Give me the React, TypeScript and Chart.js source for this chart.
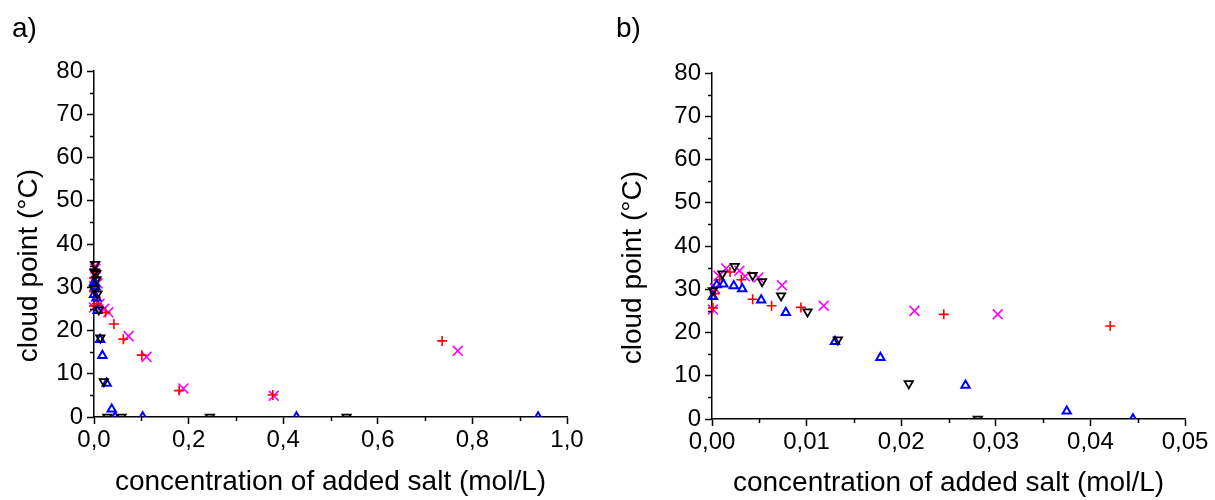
import React, { useEffect, useRef } from 'react';
import { Chart, registerables } from 'chart.js';

Chart.register(...registerables);

// ---- data (shared by both panels; panel b is the low-concentration zoom) ----
const downTriX = [0.0001, 0.0011, 0.0024, 0.0043, 0.0053, 0.0073, 0.0101, 0.0133, 0.0208, 0.0281, 0.058, 0.245, 0.534];
const downTriY = [29.7, 33.6, 35.3, 33.2, 31.8, 28.5, 24.8, 18.3, 8.2, 0, 0, 0, 0];

const upTriX = [0.0001, 0.0005, 0.0012, 0.0023, 0.0032, 0.0052, 0.0078, 0.013, 0.0178, 0.0268, 0.0375, 0.0445, 0.103, 0.428, 0.939];
const upTriY = [28.3, 31.0, 31.2, 30.8, 30.1, 27.5, 24.6, 17.9, 14.2, 7.8, 1.8, 0, 0, 0, 0];

const plusX = [0.0001, 0.0003, 0.0008, 0.0019, 0.0031, 0.0043, 0.0063, 0.0094, 0.0245, 0.0421, 0.062, 0.101, 0.18, 0.378, 0.736];
const plusY = [25.7, 29.0, 32.2, 34.0, 32.2, 27.7, 26.2, 25.8, 24.2, 21.5, 18.0, 14.3, 6.1, 5.1, 17.6];

const crossX = [0.0001, 0.0003, 0.0007, 0.0015, 0.0029, 0.0035, 0.0049, 0.0074, 0.0118, 0.0214, 0.0302, 0.073, 0.111, 0.189, 0.38, 0.769];
const crossY = [25.3, 30.2, 33.1, 34.8, 34.3, 33.0, 32.7, 30.9, 26.2, 25.0, 24.2, 18.7, 13.9, 6.6, 4.9, 15.3];

const yTicksMajor = [0, 10, 20, 30, 40, 50, 60, 70, 80];
const yMinor = [5, 15, 25, 35, 45, 55, 65, 75];
const xMinorA = [0.1, 0.3, 0.5, 0.7, 0.9];
const xMinorB = [0.005, 0.015, 0.025, 0.035, 0.045];

const X_TITLE = 'concentration of added salt (mol/L)';
const Y_TITLE = 'cloud point (°C)';
const FONT = '"Liberation Sans", Arial, Helvetica, sans-serif';

const zip = (xs: number[], ys: number[]) => xs.map((x, i) => ({ x, y: ys[i] }));

function makeDatasets() {
  const clip = { left: 10, top: 10, right: 10, bottom: 0 } as any;
  return [
    {
      label: 'down',
      data: zip(downTriX, downTriY),
      pointStyle: 'triangle',
      pointRotation: 180,
      pointRadius: 4.8,
      pointBorderColor: '#000000',
      pointBorderWidth: 1.8,
      pointBackgroundColor: 'rgba(0,0,0,0)',
      showLine: false,
      clip,
    },
    {
      label: 'up',
      data: zip(upTriX, upTriY),
      pointStyle: 'triangle',
      pointRotation: 0,
      pointRadius: 4.8,
      pointBorderColor: '#0000ff',
      pointBorderWidth: 2,
      pointBackgroundColor: 'rgba(0,0,0,0)',
      showLine: false,
      clip,
    },
    {
      label: 'plus',
      data: zip(plusX, plusY),
      pointStyle: 'cross',
      pointRadius: 5,
      pointBorderColor: '#ff0000',
      pointBorderWidth: 1.6,
      pointBackgroundColor: 'rgba(0,0,0,0)',
      showLine: false,
      clip,
    },
    {
      label: 'cross',
      data: zip(crossX, crossY),
      pointStyle: 'crossRot',
      pointRadius: 7,
      pointBorderColor: '#ff00ff',
      pointBorderWidth: 1.6,
      pointBackgroundColor: 'rgba(0,0,0,0)',
      showLine: false,
      clip,
    },
  ];
}

type PanelCfg = {
  letter: string;
  xMax: number;
  xStep: number;
  decimals: number;
  xMinor: number[];
  left: number;
  width: number;
  plotLeft: number;
  plotRight: number;
  plotTop: number;
  plotBottom: number;
  letterX: number;
  yTitleX: number;
  xTitleY: number;
};

function makeDecor(cfg: PanelCfg) {
  return {
    id: 'decor' + cfg.letter,
    afterDraw(chart: any) {
      const ctx = chart.ctx as CanvasRenderingContext2D;
      const xs = chart.scales.x;
      const ys = chart.scales.y;
      ctx.save();
      ctx.strokeStyle = '#000';
      ctx.lineWidth = 1.5;
      for (const v of cfg.xMinor) {
        const px = Math.round(xs.getPixelForValue(v)) + 0.5;
        ctx.beginPath();
        ctx.moveTo(px, ys.bottom);
        ctx.lineTo(px, ys.bottom + 4);
        ctx.stroke();
      }
      for (const v of yMinor) {
        const py = Math.round(ys.getPixelForValue(v)) + 0.5;
        ctx.beginPath();
        ctx.moveTo(xs.left, py);
        ctx.lineTo(xs.left - 4, py);
        ctx.stroke();
      }
      ctx.fillStyle = '#000';
      ctx.font = '28px ' + FONT;
      ctx.textBaseline = 'alphabetic';
      ctx.textAlign = 'center';
      ctx.fillText(X_TITLE, (xs.left + xs.right) / 2, cfg.xTitleY);
      ctx.save();
      ctx.translate(cfg.yTitleX, ys.getPixelForValue(35));
      ctx.rotate(-Math.PI / 2);
      ctx.fillText(Y_TITLE, 0, 0);
      ctx.restore();
      ctx.textAlign = 'left';
      ctx.fillText(cfg.letter + ')', cfg.letterX, 37);
      ctx.restore();
    },
  };
}

function Panel({ cfg }: { cfg: PanelCfg }) {
  const ref = useRef<HTMLCanvasElement | null>(null);
  useEffect(() => {
    if (!ref.current) return;
    const chart = new Chart(ref.current, {
      type: 'scatter',
      data: { datasets: makeDatasets() as any },
      plugins: [makeDecor(cfg)],
      options: {
        animation: false,
        responsive: false,
        events: [],
        layout: {
          padding: { left: 0, top: cfg.plotTop, right: cfg.width - cfg.plotRight, bottom: 0 },
        },
        plugins: { legend: { display: false }, tooltip: { enabled: false }, title: { display: false } },
        scales: {
          x: {
            type: 'linear',
            min: 0,
            max: cfg.xMax,
            afterFit: (s: any) => {
              s.height = 500 - cfg.plotBottom - cfg.plotTop * 0;
            },
            afterBuildTicks: (s: any) => {
              const t = [];
              for (let i = 0; i <= 5; i++) t.push({ value: +(i * cfg.xStep).toFixed(6) });
              s.ticks = t;
            },
            ticks: {
              color: '#000',
              font: { size: 24, family: FONT },
              padding: 2,
              maxRotation: 0,
              autoSkip: false,
              callback: (v: any) => Number(v).toFixed(cfg.decimals).replace('.', ','),
            },
            grid: { display: true, drawOnChartArea: false, drawTicks: true, tickLength: 7, tickColor: '#000', tickWidth: 1.5 },
            border: { display: true, color: '#000', width: 1.5 },
          },
          y: {
            type: 'linear',
            min: 0,
            max: 80,
            afterFit: (s: any) => {
              s.width = cfg.plotLeft;
            },
            afterBuildTicks: (s: any) => {
              s.ticks = yTicksMajor.map((v) => ({ value: v }));
            },
            ticks: {
              color: '#000',
              font: { size: 24, family: FONT },
              padding: 4,
              autoSkip: false,
              callback: (v: any) => String(v),
            },
            grid: { display: true, drawOnChartArea: false, drawTicks: true, tickLength: 7, tickColor: '#000', tickWidth: 1.5 },
            border: { display: true, color: '#000', width: 1.5 },
          },
        },
      } as any,
    });
    return () => chart.destroy();
  }, [cfg]);
  return (
    <canvas
      ref={ref}
      width={cfg.width}
      height={500}
      style={{ position: 'absolute', left: cfg.left, top: 0, width: cfg.width, height: 500 }}
    />
  );
}

const PANEL_A: PanelCfg = {
  letter: 'a',
  xMax: 1.0,
  xStep: 0.2,
  decimals: 1,
  xMinor: xMinorA,
  left: 0,
  width: 600,
  plotLeft: 94,
  plotRight: 567,
  plotTop: 71,
  plotBottom: 417,
  letterX: 12,
  yTitleX: 37,
  xTitleY: 490,
};

const PANEL_B: PanelCfg = {
  letter: 'b',
  xMax: 0.05,
  xStep: 0.01,
  decimals: 2,
  xMinor: xMinorB,
  left: 600,
  width: 615,
  plotLeft: 112,
  plotRight: 585,
  plotTop: 73,
  plotBottom: 419,
  letterX: 16,
  yTitleX: 41,
  xTitleY: 491,
};

export default function App() {
  return (
    <div style={{ position: 'fixed', left: 0, top: 0, width: 1215, height: 500, background: '#fff' }}>
      <Panel cfg={PANEL_A} />
      <Panel cfg={PANEL_B} />
    </div>
  );
}
